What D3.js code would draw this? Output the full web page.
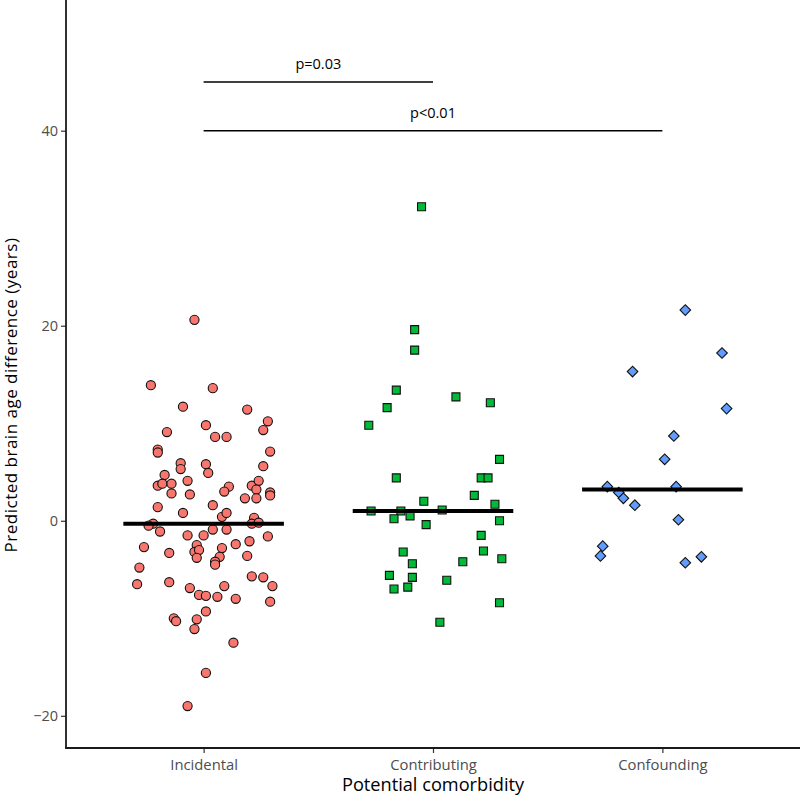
<!DOCTYPE html>
<html><head><meta charset="utf-8">
<script src="https://cdn.jsdelivr.net/npm/d3@7"></script>
<style>
html,body{margin:0;padding:0;background:#fff;}
svg{display:block;font-family:"Open Sans",sans-serif;}
</style></head>
<body>
<svg id="chart" width="800" height="800"></svg>
<script>
const categories = ["Incidental", "Contributing", "Confounding"];

const incidentalValues = [20.6,13.9,13.6,11.7,11.4,10.2,9.3,9.8,9.1,8.6,
  8.6,7.3,7.0,7.1,5.6,5.9,5.3,5.8,4.9,4.7,
  3.6,3.8,3.8,4.1,2.8,2.7,3.5,3.0,3.6,4.1,
  3.2,2.3,2.3,2.9,2.6,1.4,0.8,1.6,0.4,0.8,
  0.3,-0.3,-0.5,-1.1,-1.5,-1.5,-0.9,-0.9,-0.3,-0.2,
  -1.6,-2.7,-3.3,-2.5,-3.2,-3.0,-3.8,-2.8,-3.7,-4.2,
  -4.5,-2.4,-2.1,-3.6,-4.8,-6.5,-6.3,-6.9,-7.6,-7.7,
  -7.8,-6.7,-8.0,-5.7,-5.8,-6.7,-8.3,-10.0,-10.3,-10.1,
  -9.3,-11.1,-12.5,-15.6,-19.0];
const incidentalJitter = [-0.04,-0.23,0.04,-0.09,0.19,0.28,0.26,0.01,-0.16,0.05,
  0.10,-0.20,-0.20,0.29,0.26,-0.10,-0.10,0.01,0.02,-0.17,
  -0.20,-0.18,-0.14,-0.07,-0.14,-0.06,0.11,0.09,0.21,0.24,
  0.23,0.18,0.23,0.29,0.29,-0.20,-0.09,0.04,0.08,0.10,
  0.22,-0.22,-0.24,-0.19,-0.07,0.00,0.04,0.10,0.21,0.24,
  0.28,-0.26,-0.15,-0.03,-0.04,-0.02,-0.03,0.08,0.07,0.05,
  0.05,0.14,0.20,0.19,-0.28,-0.29,-0.15,-0.06,-0.02,0.01,
  0.06,0.09,0.14,0.21,0.26,0.30,0.29,-0.13,-0.12,-0.03,
  0.01,-0.04,0.13,0.01,-0.07];

const contributingValues = [32.2,19.6,17.5,13.4,12.7,12.1,11.6,9.8,6.3,4.4,
  4.4,4.4,2.6,2.0,1.7,1.0,1.0,1.1,0.2,0.5,
  0.0,-0.4,-1.5,-3.2,-3.1,-4.4,-4.2,-3.9,-5.6,-5.8,
  -6.1,-7.0,-6.8,-8.4,-10.4];
const contributingJitter = [-0.05,-0.08,-0.08,-0.16,0.10,0.25,-0.20,-0.28,0.29,-0.16,
  0.21,0.24,0.18,-0.04,0.27,-0.27,-0.14,0.04,-0.17,-0.10,
  0.29,-0.03,0.21,-0.13,0.22,-0.09,0.13,0.30,-0.19,-0.09,
  0.06,-0.17,-0.11,0.29,0.03];

const confoundingValues = [21.6,17.2,15.3,11.5,8.7,6.3,3.5,3.5,2.9,2.3,
  1.6,0.1,-2.6,-3.6,-3.7,-4.3];
const confoundingJitter = [0.10,0.26,-0.13,0.28,0.05,0.01,-0.24,0.06,-0.19,-0.17,
  -0.12,0.07,-0.26,-0.27,0.17,0.10];

const groupColors = ["#F8766D", "#00BA38", "#619CFF"];
const groupShapes = ["circle", "square", "diamond"];

const yTicks = [-20, 0, 20, 40];
const comparisons = [
  {from: "Incidental", to: "Contributing", y: 45, label: "p=0.03"},
  {from: "Incidental", to: "Confounding", y: 40, label: "p<0.01"}
];
const xTitle = "Potential comorbidity";
const yTitle = "Predicted brain age difference (years)";

const groups = [
  {name: categories[0], values: incidentalValues, jitter: incidentalJitter},
  {name: categories[1], values: contributingValues, jitter: contributingJitter},
  {name: categories[2], values: confoundingValues, jitter: confoundingJitter}
];

const svg = d3.select("#chart");
const mLeft = 66, mRight = 800, mTop = 0, mBottom = 748;

const x = d3.scalePoint().domain(categories).range([mLeft, mRight]).padding(0.6);
const step = x.step();
const y = d3.scaleLinear().domain([-23.3, 53.4]).range([mBottom, mTop]);

const sym = {
  circle: d3.symbol().type(d3.symbolCircle).size(66),
  square: d3.symbol().type(d3.symbolSquare).size(64),
  diamond: d3.symbol().type(d3.symbolSquare).size(56)
};

groups.forEach((g, gi) => {
  const pts = g.values.map((v, i) => ({v, j: g.jitter[i]}));
  const shape = groupShapes[gi];
  svg.append("g").selectAll("path").data(pts).join("path")
    .attr("d", sym[shape]())
    .attr("transform", d => {
      const tx = x(g.name) + d.j * step, ty = y(d.v);
      return shape === "diamond" ? `translate(${tx},${ty}) rotate(45)` : `translate(${tx},${ty})`;
    })
    .attr("fill", groupColors[gi])
    .attr("stroke", "#111")
    .attr("stroke-width", 1.1);
});

groups.forEach(g => {
  const m = d3.median(g.values);
  svg.append("line")
    .attr("x1", x(g.name) - 0.35 * step).attr("x2", x(g.name) + 0.35 * step)
    .attr("y1", y(m)).attr("y2", y(m))
    .attr("stroke", "#000").attr("stroke-width", 4);
});

comparisons.forEach(c => {
  svg.append("line")
    .attr("x1", x(c.from)).attr("x2", x(c.to))
    .attr("y1", y(c.y)).attr("y2", y(c.y))
    .attr("stroke", "#000").attr("stroke-width", 1.5);
  svg.append("text")
    .attr("x", (x(c.from) + x(c.to)) / 2)
    .attr("y", y(c.y) - 13)
    .attr("text-anchor", "middle")
    .attr("font-size", 14.5)
    .attr("fill", "#000")
    .text(c.label);
});

const yAxis = d3.axisLeft(y).tickValues(yTicks).tickSize(5).tickPadding(3)
  .tickFormat(d => d < 0 ? "\u2212" + Math.abs(d) : String(d));
const gy = svg.append("g").attr("transform", `translate(${mLeft},0)`).call(yAxis);
gy.select(".domain").remove();
gy.selectAll(".tick line").attr("stroke", "#333").attr("stroke-width", 1.2);
gy.selectAll(".tick text").attr("fill", "#4D4D4D").attr("font-size", 14.5)
  .attr("font-family", "'Open Sans', sans-serif");

const xAxis = d3.axisBottom(x).tickSize(5).tickPadding(6);
const gx = svg.append("g").attr("transform", `translate(0,${mBottom})`).call(xAxis);
gx.select(".domain").remove();
gx.selectAll(".tick line").attr("stroke", "#333").attr("stroke-width", 1.2);
gx.selectAll(".tick text").attr("fill", "#4D4D4D").attr("font-size", 14.8)
  .attr("font-family", "'Open Sans', sans-serif");

svg.append("line").attr("x1", mLeft).attr("x2", mLeft).attr("y1", mTop).attr("y2", mBottom + 0.8)
  .attr("stroke", "#1a1a1a").attr("stroke-width", 1.8);
svg.append("line").attr("x1", mLeft - 0.8).attr("x2", mRight).attr("y1", mBottom).attr("y2", mBottom)
  .attr("stroke", "#1a1a1a").attr("stroke-width", 1.8);

svg.append("text").attr("x", (mLeft + mRight) / 2).attr("y", 791)
  .attr("text-anchor", "middle").attr("font-size", 18.2).attr("fill", "#000")
  .text(xTitle);
svg.append("text")
  .attr("transform", `translate(17,395) rotate(-90)`)
  .attr("text-anchor", "middle").attr("font-size", 17).attr("letter-spacing", "0.5px")
  .attr("fill", "#000")
  .text(yTitle);
</script>
</body></html>
